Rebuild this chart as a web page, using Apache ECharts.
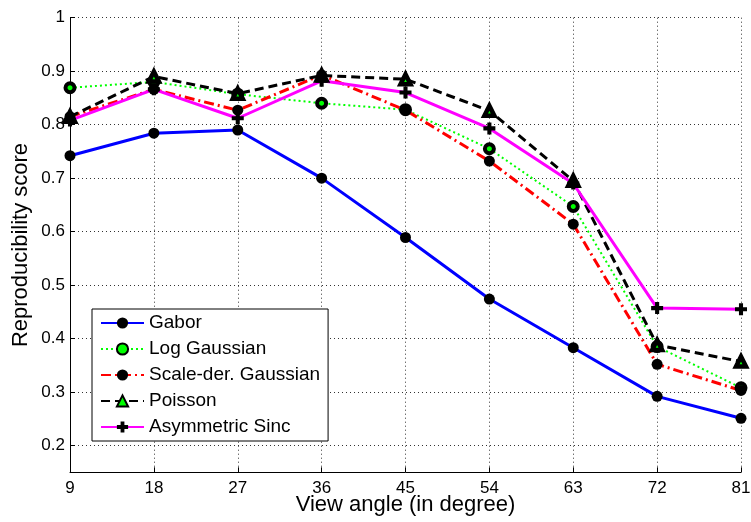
<!DOCTYPE html>
<html>
<head>
<meta charset="utf-8">
<script src="https://cdn.jsdelivr.net/npm/echarts@6/dist/echarts.min.js"></script>
<style>
  html, body { margin: 0; padding: 0; background: #fff; }
  #chart { width: 751px; height: 522px; }
</style>
</head>
<body>
<div id="chart"></div>
<script>
// View angles (degrees)
const angles = ['9', '18', '27', '36', '45', '54', '63', '72', '81'];

// Reproducibility score per filter type
const gabor       = [0.742, 0.784, 0.790, 0.700, 0.589, 0.474, 0.383, 0.292, 0.251];
const logGaussian = [0.869, 0.880, 0.857, 0.840, 0.828, 0.755, 0.647, 0.385, 0.308];
const scaleDer    = [0.815, 0.866, 0.827, 0.893, 0.827, 0.732, 0.614, 0.352, 0.303];
const poisson     = [0.815, 0.890, 0.858, 0.892, 0.885, 0.826, 0.695, 0.388, 0.357];
const asymSinc    = [0.808, 0.866, 0.812, 0.882, 0.860, 0.793, 0.690, 0.457, 0.455];

// Y tick values
const yTicks = [0.2, 0.3, 0.4, 0.5, 0.6, 0.7, 0.8, 0.9, 1];

const FONT = 'Liberation Sans';
const plusPath = 'path://M3.3,0H6.7V3.3H10V6.7H6.7V10H3.3V6.7H0V3.3H3.3Z';

function lineSeries(name, data, color, width, type, symbol, size, fill, border) {
  return {
    name: name,
    type: 'line',
    data: data,
    symbol: symbol,
    symbolSize: size,
    showSymbol: true,
    animation: false,
    lineStyle: { color: color, width: width, type: type },
    itemStyle: { color: fill, borderColor: '#000', borderWidth: border },
    emphasis: { disabled: true }
  };
}

const chart = echarts.init(document.getElementById('chart'), null, { renderer: 'canvas' });
chart.setOption({
  backgroundColor: '#fff',
  animation: false,
  grid: {
    left: 70, right: 10, top: 17.7, bottom: 49.7,
    containLabel: false,
    outerBoundsMode: 'none'
  },
  xAxis: {
    type: 'category',
    data: angles,
    boundaryGap: false,
    name: 'View angle (in degree)',
    nameLocation: 'middle',
    nameMoveOverlap: false,
    nameGap: 22,
    nameTextStyle: { fontFamily: FONT, fontSize: 22, color: '#000' },
    axisLine: { lineStyle: { color: '#000', width: 1 } },
    axisTick: { inside: true, length: 5, lineStyle: { color: '#000' }, alignWithLabel: true },
    axisLabel: { fontFamily: FONT, fontSize: 17, color: '#000', margin: 8, interval: 0 },
    splitLine: { show: true, lineStyle: { color: '#333', width: 1, type: [1, 3] } }
  },
  yAxis: {
    type: 'value',
    min: 0.15,
    max: 1,
    name: 'Reproducibility score',
    nameLocation: 'middle',
    nameMoveOverlap: false,
    nameGap: 38,
    nameTextStyle: { fontFamily: FONT, fontSize: 22, color: '#000' },
    axisLine: { show: true, lineStyle: { color: '#000', width: 1 } },
    axisTick: { show: true, inside: true, length: 5, lineStyle: { color: '#000' }, customValues: yTicks },
    axisLabel: {
      fontFamily: FONT, fontSize: 17, color: '#000', margin: 5,
      customValues: yTicks,
      formatter: function (v) { return v === 1 ? '1' : v.toFixed(1); }
    },
    splitLine: { show: true, lineStyle: { color: '#333', width: 1, type: [1, 3] } }
  },
  legend: {
    orient: 'vertical',
    left: 92,
    top: 309,
    padding: [4, 8, 4, 8],
    itemWidth: 43,
    itemHeight: 14,
    itemGap: 6,
    backgroundColor: '#fff',
    borderColor: '#000',
    borderWidth: 1,
    borderRadius: 0,
    textStyle: { fontFamily: FONT, fontSize: 19, color: '#000', lineHeight: 20 },
    data: ['Gabor', 'Log Gaussian', 'Scale-der. Gaussian', 'Poisson', 'Asymmetric Sinc']
  },
  series: [
    lineSeries('Gabor', gabor, '#0000ff', 3, 'solid', 'circle', 11, '#000', 0),
    lineSeries('Log Gaussian', logGaussian, '#00ff00', 2, [2, 3], 'circle', 9, '#00ff00', 4),
    lineSeries('Scale-der. Gaussian', scaleDer, '#ff0000', 3, [10, 4, 2, 4], 'circle', 11, '#000', 0),
    lineSeries('Poisson', poisson, '#000', 3, [9, 5], 'triangle', 10, '#00ff00', 4.5),
    lineSeries('Asymmetric Sinc', asymSinc, '#ff00ff', 3, 'solid', plusPath, 12, '#000', 0)
  ]
});
</script>
</body>
</html>
